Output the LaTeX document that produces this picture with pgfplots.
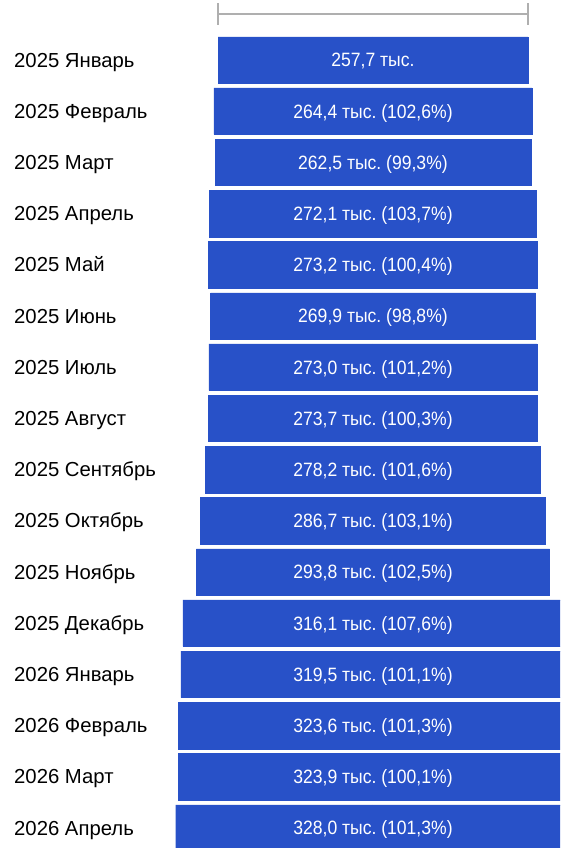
\documentclass[border=0pt]{standalone}
\usepackage{fontspec}
\setmainfont{Liberation Sans}
\newfontfamily\barfont[FakeStretch=0.91]{Liberation Sans}
\usepackage{pgfplots}
\usepackage{pgfplotstable}
\pgfplotsset{compat=1.18}
\definecolor{barblue}{RGB}{40,81,200}
\definecolor{whisk}{RGB}{175,175,175}
\frenchspacing

\pgfplotstableread[col sep=semicolon]{
y;v;lab
0;257.7;257,7 тыс.
1;264.4;264,4 тыс. (102,6\%)
2;262.5;262,5 тыс. (99,3\%)
3;272.1;272,1 тыс. (103,7\%)
4;273.2;273,2 тыс. (100,4\%)
5;269.9;269,9 тыс. (98,8\%)
6;273.0;273,0 тыс. (101,2\%)
7;273.7;273,7 тыс. (100,3\%)
8;278.2;278,2 тыс. (101,6\%)
9;286.7;286,7 тыс. (103,1\%)
10;293.8;293,8 тыс. (102,5\%)
11;316.1;316,1 тыс. (107,6\%)
12;319.5;319,5 тыс. (101,1\%)
13;323.6;323,6 тыс. (101,3\%)
14;323.9;323,9 тыс. (100,1\%)
15;328.0;328,0 тыс. (101,3\%)
}\data

\begin{document}
\begin{tikzpicture}
\useasboundingbox (0,0) rectangle (560pt,848pt);
\begin{axis}[
    at={(0,0)}, anchor=south west,
    scale only axis,
    width=560pt, height=848pt,
    xmin=-310.1, xmax=155.5,
    ymin=-1.172, ymax=15.39,
    y dir=reverse,
    axis line style={draw=none},
    major tick length=0pt,
    xtick=\empty,
    ytick={0,...,15},
    yticklabels={2025 Январь, 2025 Февраль, 2025 Март, 2025 Апрель, 2025 Май,
      2025 Июнь, 2025 Июль, 2025 Август, 2025 Сентябрь, 2025 Октябрь,
      2025 Ноябрь, 2025 Декабрь, 2026 Январь, 2026 Февраль, 2026 Март, 2026 Апрель},
    yticklabel style={anchor=base west, xshift=14pt, yshift=-7pt, inner sep=0pt,
      font=\fontsize{20.3}{22}\selectfont, text=black},
    clip=true,
]
% centred bars: two halves around x = 0
\addplot[xbar, bar shift=0pt, bar width=46.5pt, fill=barblue, draw=barblue, line width=0.4pt]
  table[x expr=\thisrow{v}/2, y=y]{\data};
\addplot[xbar, bar shift=0pt, bar width=46.5pt, fill=barblue, draw=barblue, line width=0.4pt]
  table[x expr=-\thisrow{v}/2, y=y]{\data};
% labels inside bars
\addplot[draw=none, mark=none, nodes near coords, point meta=explicit symbolic,
  every node near coord/.style={anchor=base, yshift=-6.8pt, text=white, inner sep=0pt,
    font=\barfont\fontsize{19.3}{22}\selectfont}]
  table[x expr=0, y=y, meta=lab]{\data};
% range bracket on top
\draw[whisk, line width=2pt] (axis cs:-128.85,-0.898) -- (axis cs:128.85,-0.898);
\draw[whisk, line width=2pt] (axis cs:-128.85,-1.113) -- (axis cs:-128.85,-0.684);
\draw[whisk, line width=2pt] (axis cs:128.85,-1.113) -- (axis cs:128.85,-0.684);
\end{axis}
\end{tikzpicture}
\end{document}
